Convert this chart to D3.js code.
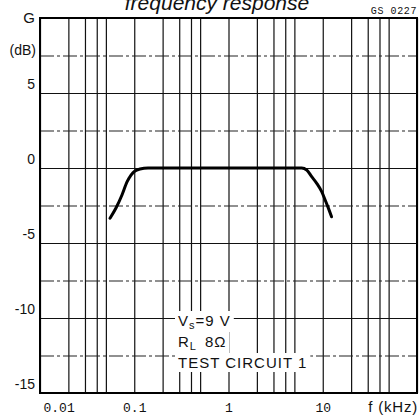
<!DOCTYPE html>
<html>
<head>
<meta charset="utf-8">
<script src="https://cdn.jsdelivr.net/npm/d3@7"></script>
<style>
  body { margin: 0; background: #fff; }
  svg { display: block; }
  text { fill: #111; }
</style>
</head>
<body>
<div id="chart"></div>
<script>
// axis values
const freqLabelTicks = [0.01, 0.1, 1, 10];
const freqLabels = ["0.01", "0.1", "1", "10"];
const freqGrid = [0.01, 0.02, 0.03, 0.04, 0.05,
                  0.1, 0.2, 0.3, 0.4, 0.5,
                  1, 2, 3, 4, 5,
                  10, 20, 30, 40, 50, 100];
const gainLabelTicks = [5, 0, -5, -10, -15];
const gainMajorGrid = [5, 0, -5, -10];
const gainMinorGrid = [7.5, 2.5, -2.5, -7.5, -12.5];

// response curve (kHz, dB)
const curveFreq = [0.0553, 0.064, 0.0741, 0.0838, 0.0924, 0.1018, 0.115, 0.14,
                   5.98, 6.76, 7.63, 8.63, 9.75, 10.6, 11.5, 12.4];
const curveGain = [-3.35, -2.67, -1.8, -0.93, -0.47, -0.2, -0.07, 0,
                   0, -0.13, -0.58, -1.02, -1.58, -2.13, -2.69, -3.25];

const W = 420, H = 417;
const plotL = 40, plotR = 417, plotT = 18, plotB = 393;

const svg = d3.select('#chart').append('svg')
    .attr('width', W)
    .attr('height', H);

const x = d3.scaleLog().domain([0.01, 100]).range([plotL, plotR]);
const y = d3.scaleLinear().domain([-15, 10]).range([plotB, plotT]);

// title, cut at the top edge as in the scan
svg.append('text')
    .attr('x', 217)
    .attr('y', 10)
    .attr('text-anchor', 'middle')
    .style('font-family', 'Liberation Sans, Arial, sans-serif')
    .style('font-style', 'italic')
    .style('font-size', '21px')
    .text('frequency response');

svg.append('text')
    .attr('x', 417)
    .attr('y', 14)
    .attr('text-anchor', 'end')
    .style('font-family', 'Liberation Mono, monospace')
    .style('font-size', '10px')
    .style('letter-spacing', '0.6px')
    .text('GS 0227');

// vertical grid
const xGrid = svg.append('g')
    .attr('transform', `translate(0,${plotB})`)
    .call(d3.axisBottom(x).tickValues(freqGrid).tickSize(-(plotB - plotT)).tickFormat(''));
xGrid.select('.domain').remove();
xGrid.selectAll('line').attr('stroke', '#111').attr('stroke-width', 1.2);

// horizontal grid
const yGrid = svg.append('g')
    .attr('transform', `translate(${plotL},0)`)
    .call(d3.axisLeft(y).tickValues(gainMajorGrid).tickSize(-(plotR - plotL)).tickFormat(''));
yGrid.select('.domain').remove();
yGrid.selectAll('line').attr('stroke', '#111').attr('stroke-width', 1.1);

const yGridMinor = svg.append('g')
    .attr('transform', `translate(${plotL},0)`)
    .call(d3.axisLeft(y).tickValues(gainMinorGrid).tickSize(-(plotR - plotL)).tickFormat(''));
yGridMinor.select('.domain').remove();
yGridMinor.selectAll('line')
    .attr('stroke', '#222')
    .attr('stroke-width', 1.1)
    .attr('stroke-dasharray', '14,3,3,3');

// frame
svg.append('rect')
    .attr('x', plotL)
    .attr('y', plotT)
    .attr('width', plotR - plotL)
    .attr('height', plotB - plotT)
    .attr('fill', 'none')
    .attr('stroke', '#000')
    .attr('stroke-width', 2);

// annotation with white backing so the grid breaks around it
const note = svg.append('g')
    .style('font-family', 'Liberation Sans, Arial, sans-serif')
    .style('font-size', '15px')
    .style('letter-spacing', '1px');

const l1 = note.append('text').attr('x', 178).attr('y', 326);
l1.append('tspan').text('V');
l1.append('tspan').attr('font-size', '11px').attr('dy', 3).text('s');
l1.append('tspan').attr('dy', -3).text('=9 V');

const l2 = note.append('text').attr('x', 178).attr('y', 347);
l2.append('tspan').text('R');
l2.append('tspan').attr('font-size', '11px').attr('dy', 3).text('L');
l2.append('tspan').attr('dy', -3).attr('dx', 8).text('8Ω');

note.append('text').attr('x', 178).attr('y', 368)
    .text('TEST CIRCUIT 1');

note.selectAll('text').each(function() {
    const b = this.getBBox();
    note.insert('rect', 'text')
        .attr('x', b.x - 3)
        .attr('y', b.y - 1)
        .attr('width', b.width + 6)
        .attr('height', b.height + 2)
        .attr('fill', '#fff');
});

// response curve
const pts = curveFreq.map((f, i) => [x(f), y(curveGain[i])]);
svg.append('path')
    .datum(pts)
    .attr('fill', 'none')
    .attr('stroke', '#000')
    .attr('stroke-width', 3)
    .attr('stroke-linecap', 'round')
    .attr('d', d3.line().curve(d3.curveMonotoneX));

// y labels
const yAxis = svg.append('g')
    .attr('transform', `translate(${plotL - 5},0)`)
    .call(d3.axisLeft(y).tickValues(gainLabelTicks).tickSize(0).tickPadding(0).tickFormat(d => d));
yAxis.select('.domain').remove();
yAxis.selectAll('text')
    .attr('dy', -5)
    .style('font-family', 'Liberation Sans, Arial, sans-serif')
    .style('font-size', '14px')
    .attr('fill', '#111');

svg.append('text')
    .attr('x', 35).attr('y', 23)
    .attr('text-anchor', 'end')
    .style('font-family', 'Liberation Sans, Arial, sans-serif')
    .style('font-size', '15px')
    .text('G');

svg.append('text')
    .attr('x', 36).attr('y', 55)
    .attr('text-anchor', 'end')
    .style('font-family', 'Liberation Sans, Arial, sans-serif')
    .style('font-size', '14px')
    .text('(dB)');

// x labels
const xAxis = svg.append('g')
    .attr('transform', `translate(0,${plotB})`)
    .call(d3.axisBottom(x).tickValues(freqLabelTicks).tickSize(0).tickPadding(0)
        .tickFormat((d, i) => freqLabels[i]));
xAxis.select('.domain').remove();
xAxis.selectAll('text')
    .attr('y', 19)
    .attr('dy', 0)
    .style('font-family', 'Liberation Mono, monospace')
    .style('font-size', '13px')
    .attr('fill', '#111');
xAxis.selectAll('text').filter((d, i) => i === 0)
    .attr('text-anchor', 'start')
    .attr('dx', 3);

svg.append('text')
    .attr('x', 418).attr('y', 412)
    .attr('text-anchor', 'end')
    .style('font-family', 'Liberation Sans, Arial, sans-serif')
    .style('font-size', '15px')
    .style('letter-spacing', '0.8px')
    .text('f (kHz)');
</script>
</body>
</html>
